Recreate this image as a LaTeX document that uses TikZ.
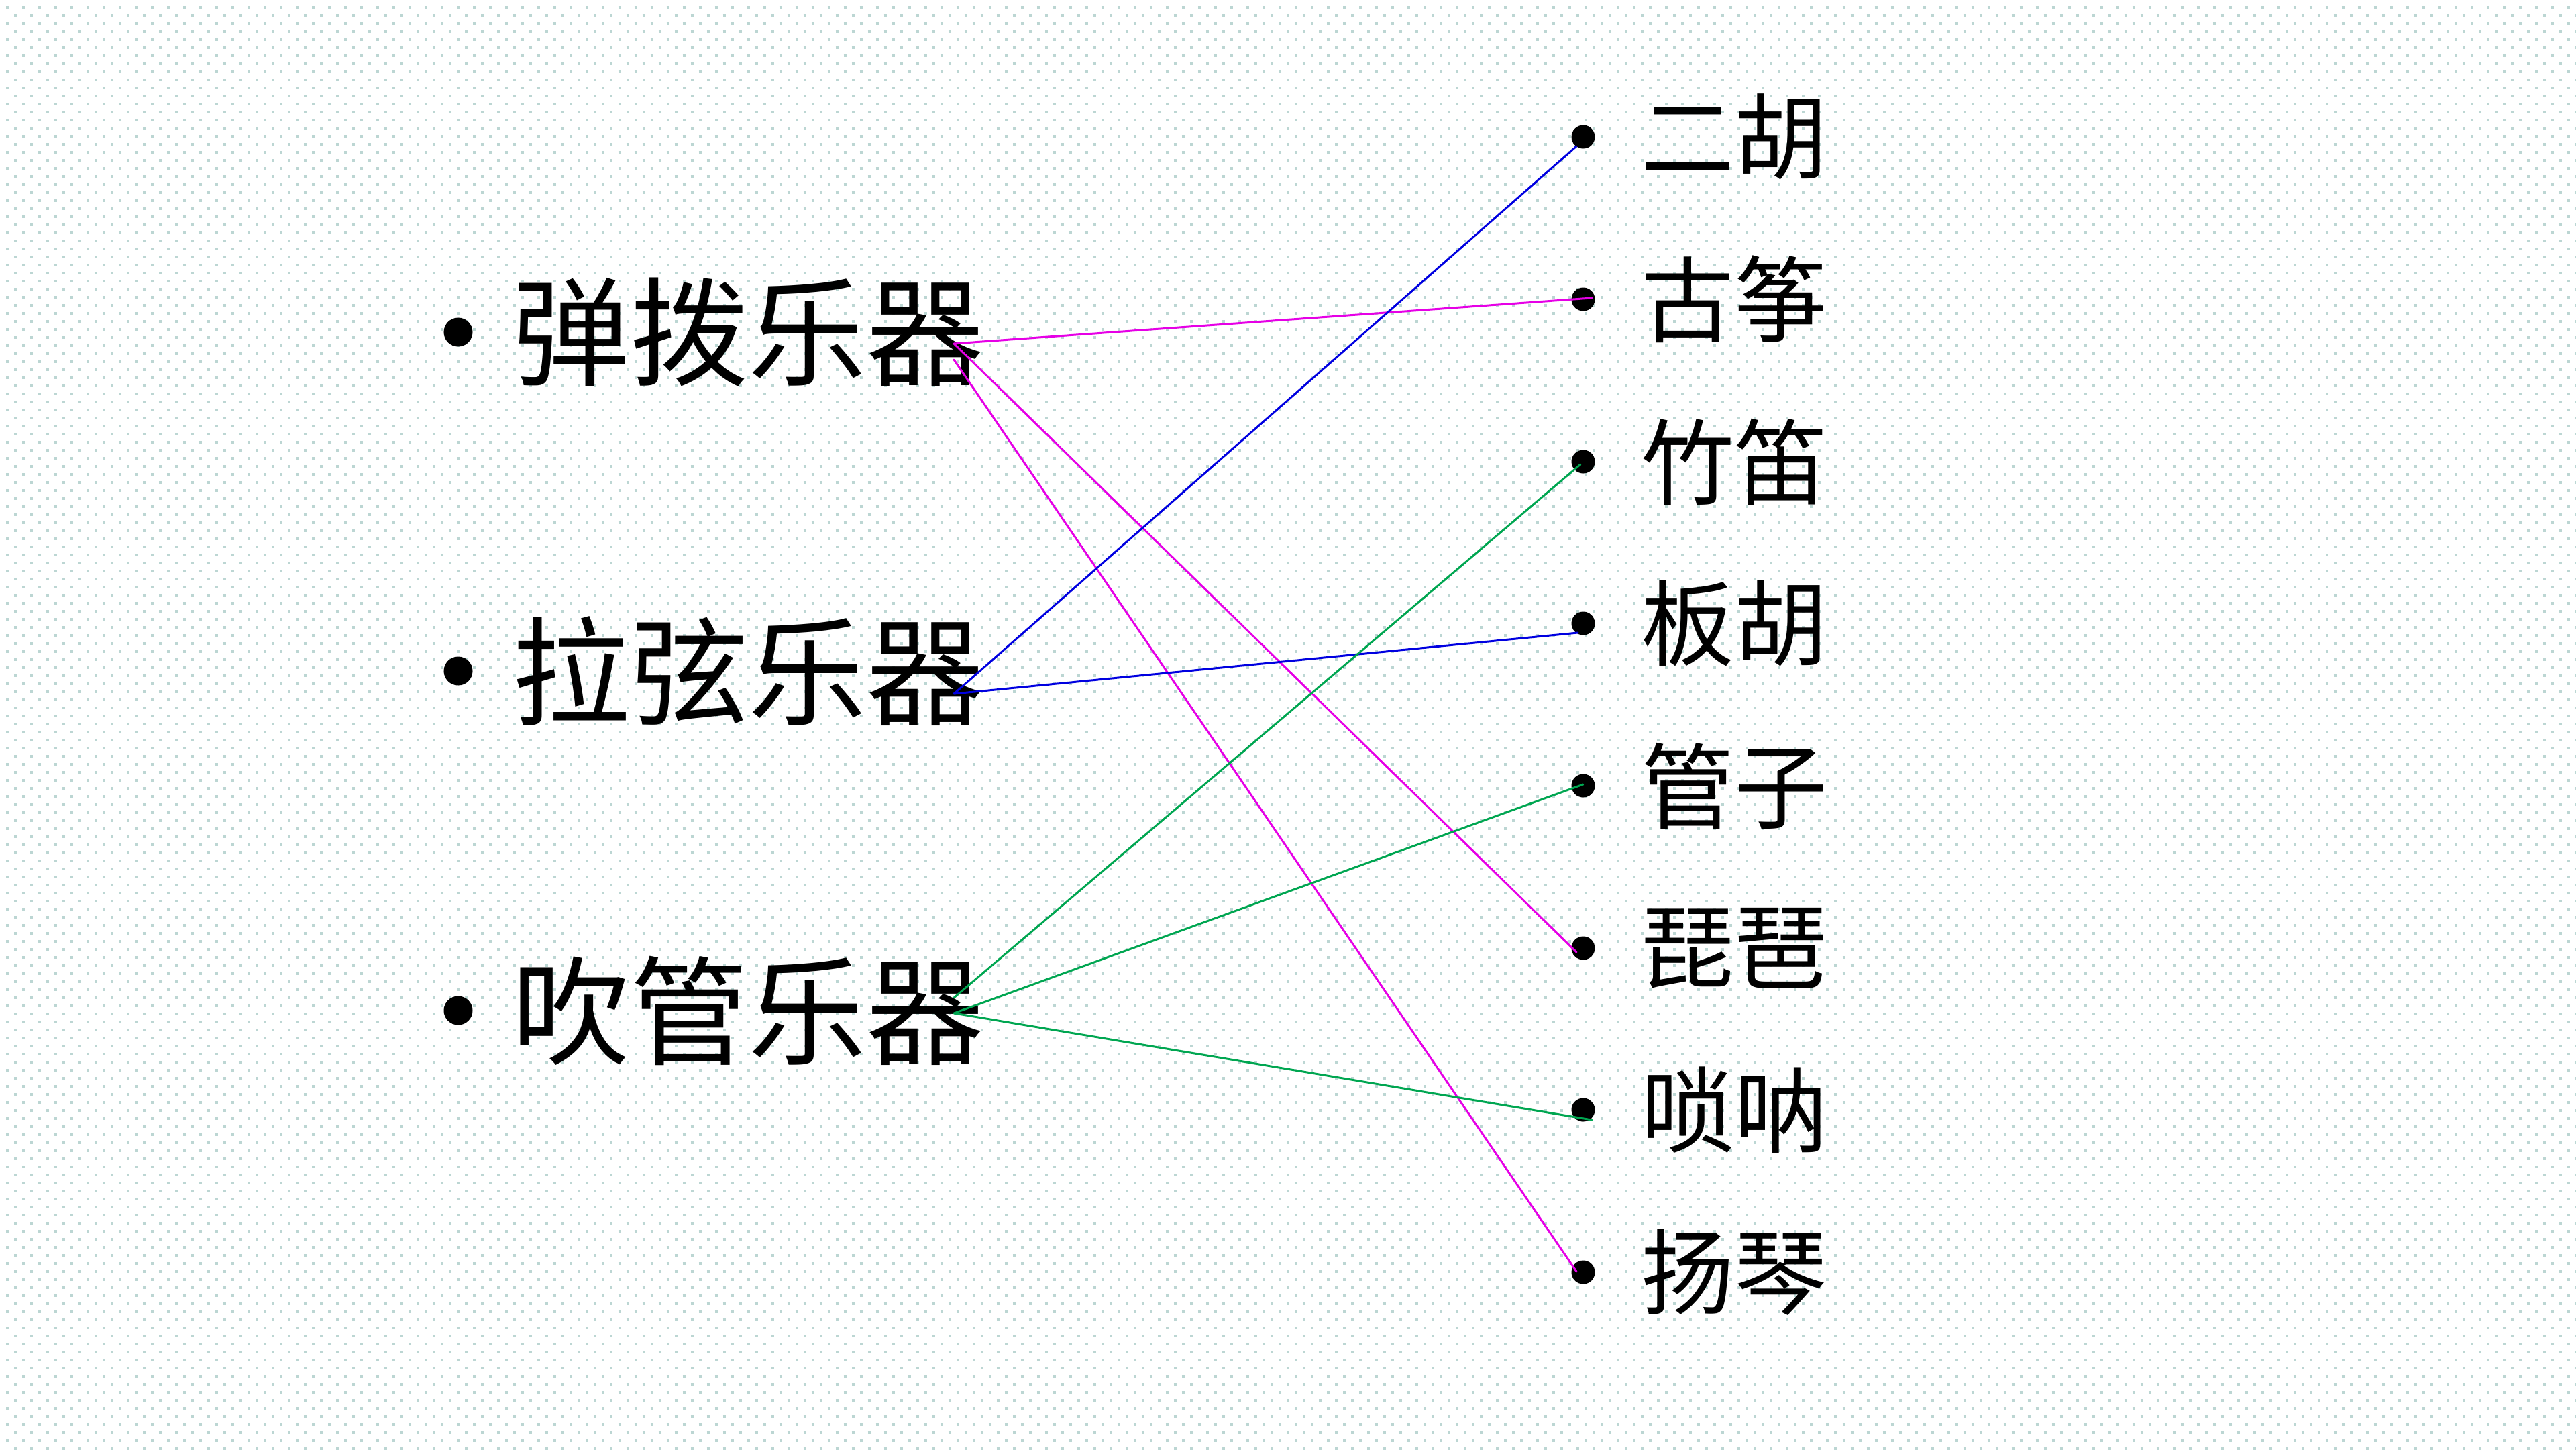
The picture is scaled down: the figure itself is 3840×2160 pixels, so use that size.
\documentclass[tikz,border=0pt]{standalone}
\usepackage{fontspec}
\newfontfamily\cjk{Noto Sans CJK SC}
\usepackage{xcolor}
\usetikzlibrary{positioning}
\definecolor{dotgray}{HTML}{BCD6D3}
\definecolor{linkmag}{HTML}{E600E6}
\definecolor{linkblue}{HTML}{0000E0}
\definecolor{linkgreen}{HTML}{00A651}
\tikzset{
  bgdot/.style={draw=dotgray, line width=0.04cm, dash pattern=on 0.04cm off 0.2cm},
  bigdot/.style={circle, fill=black, inner sep=0pt, minimum size=0.43cm},
  smalldot/.style={circle, fill=black, inner sep=0pt, minimum size=0.35cm},
  cattext/.style={inner sep=0pt, font=\cjk\fontsize{50pt}{53pt}\selectfont},
  itemtext/.style={inner sep=0pt, font=\cjk\fontsize{39.5pt}{42pt}\selectfont},
  link/.style={line width=0.85pt, line cap=round},
}

\begin{document}
\begin{tikzpicture}[x=0.01cm, y=-0.01cm]
  % dotted background
  \fill[white] (0,0) rectangle (3840,2160);
  \useasboundingbox (0,0) rectangle (3840,2160);
  \foreach \r in {0,...,89} {
    \draw[bgdot] (9,11+24*\r) -- (3840,11+24*\r);
    \draw[bgdot] (21,23+24*\r) -- (3840,23+24*\r);
  }
  % instrument families
  \node[bigdot] (tanbo) at (683,495) {};
  \node[bigdot] (laxian) at (683,1000) {};
  \node[bigdot] (chuiguan) at (683,1506) {};
  \node[cattext, right=0.58cm of tanbo] (tanbo-t) {弹拨乐器};
  \node[cattext, right=0.58cm of laxian] (laxian-t) {拉弦乐器};
  \node[cattext, right=0.58cm of chuiguan] (chuiguan-t) {吹管乐器};
  % instruments
  \foreach \name/\txt/\y in {erhu/二胡/204, guzheng/古筝/446, zhudi/竹笛/688,
      banhu/板胡/929, guanzi/管子/1171, pipa/琵琶/1413, suona/唢呐/1654,
      yangqin/扬琴/1896} {
    \node[smalldot] (\name) at (2360,\y) {};
    \node[itemtext, right=0.68cm of \name] (\name-t) {\txt};
  }
  % link ends inside the last character
  \coordinate (tanbo-a) at (1422,512);
  \coordinate (tanbo-b) at (1422,536);
  \coordinate (laxian-a) at (1422,1034);
  \coordinate (chuiguan-a) at (1422,1487);
  \coordinate (chuiguan-b) at (1422,1510);
  % links
  \draw[link, linkmag] (tanbo-a) -- ([shift={(13,-2)}]guzheng.center);
  \draw[link, linkmag] (tanbo-a) -- ([shift={(-10,6)}]pipa.center);
  \draw[link, linkmag] (tanbo-b) -- ([shift={(-10,-1)}]yangqin.center);
  \draw[link, linkblue] (laxian-a) -- ([shift={(-10,14)}]erhu.center);
  \draw[link, linkblue] (laxian-a) -- ([shift={(-8,14)}]banhu.center);
  \draw[link, linkgreen] (chuiguan-a) -- ([shift={(-4,4)}]zhudi.center);
  \draw[link, linkgreen] (chuiguan-b) -- ([shift={(0,-2)}]guanzi.center);
  \draw[link, linkgreen] (chuiguan-b) -- ([shift={(13,15)}]suona.center);
\end{tikzpicture}
\end{document}
